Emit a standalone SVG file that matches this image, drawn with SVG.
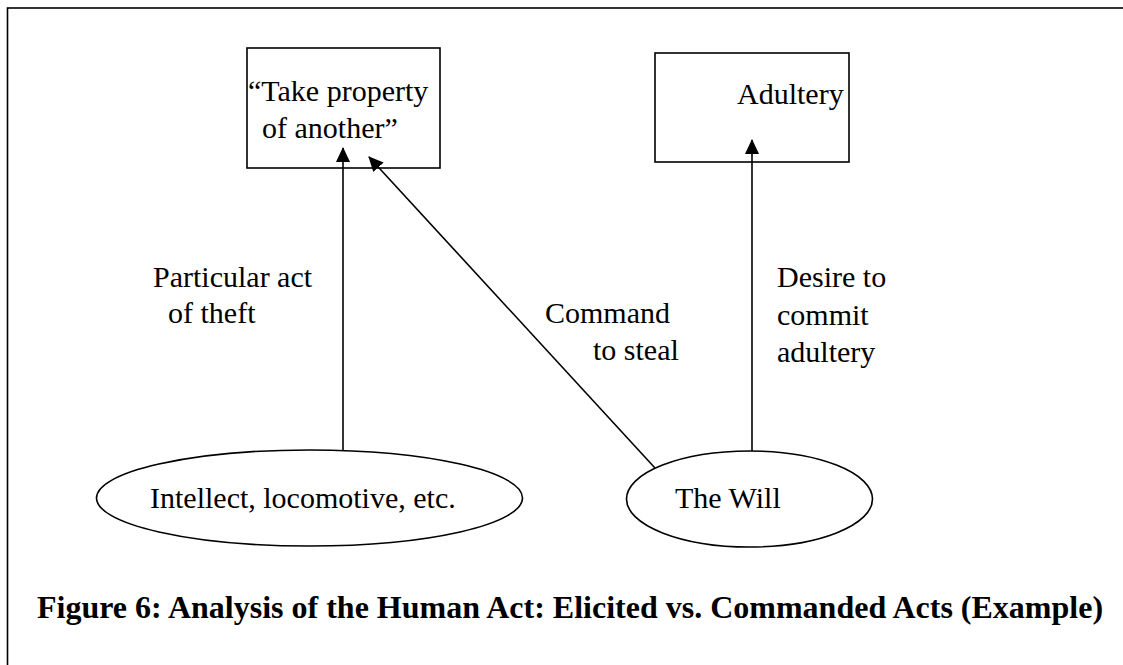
<svg xmlns="http://www.w3.org/2000/svg" width="1123" height="665" viewBox="0 0 1123 665">
  <style>
    .shape { fill: #fff; stroke: #000; stroke-width: 1.6; }
    .frame { fill: none; stroke: #000; stroke-width: 1.6; }
    .txt { font-family: "Liberation Serif", "Times New Roman", serif; font-size: 30px; fill: #000; }
    .title { font-family: "Liberation Serif", "Times New Roman", serif; font-size: 32px; font-weight: bold; fill: #000; }
    .conn { stroke: #000; stroke-width: 1.6; fill: none; marker-end: url(#arrow); }
  </style>
  <defs>
    <marker id="arrow" viewBox="0 0 15 14" refX="14" refY="7" markerUnits="userSpaceOnUse" markerWidth="15" markerHeight="14" orient="auto">
      <path d="M0,0 L15,7 L0,14 Z" fill="#000"/>
    </marker>
  </defs>
  <rect width="1123" height="665" fill="#fff"/>
  <rect class="frame" x="7.5" y="8" width="1200" height="800"/>

  <g id="node-take-property">
    <rect class="shape" x="247" y="48" width="193" height="120"/>
    <text class="txt" x="248" y="101">“Take property</text>
    <text class="txt" x="262" y="138">of another”</text>
  </g>
  <g id="node-adultery">
    <rect class="shape" x="655" y="53" width="194" height="109"/>
    <text class="txt" x="737" y="104">Adultery</text>
  </g>
  <g id="node-intellect">
    <ellipse class="shape" cx="309.5" cy="498" rx="213" ry="48"/>
    <text class="txt" x="150" y="508">Intellect, locomotive, etc.</text>
  </g>
  <g id="node-will">
    <ellipse class="shape" cx="749.5" cy="499" rx="123" ry="48"/>
    <text class="txt" x="675" y="508">The Will</text>
  </g>

  <g id="connectors">
    <line class="conn" x1="343" y1="450" x2="343" y2="148"/>
    <line class="conn" x1="655" y1="468" x2="369" y2="157"/>
    <line class="conn" x1="752" y1="451" x2="752" y2="140"/>
  </g>

  <g id="labels">
    <text class="txt" x="153" y="287">Particular act</text>
    <text class="txt" x="168" y="323">of theft</text>
    <text class="txt" x="545" y="323">Command</text>
    <text class="txt" x="593" y="360">to steal</text>
    <text class="txt" x="777" y="287">Desire to</text>
    <text class="txt" x="777" y="325">commit</text>
    <text class="txt" x="777" y="362">adultery</text>
  </g>

  <text class="title" x="37" y="618">Figure 6: Analysis of the Human Act: Elicited vs. Commanded Acts (Example)</text>
</svg>
